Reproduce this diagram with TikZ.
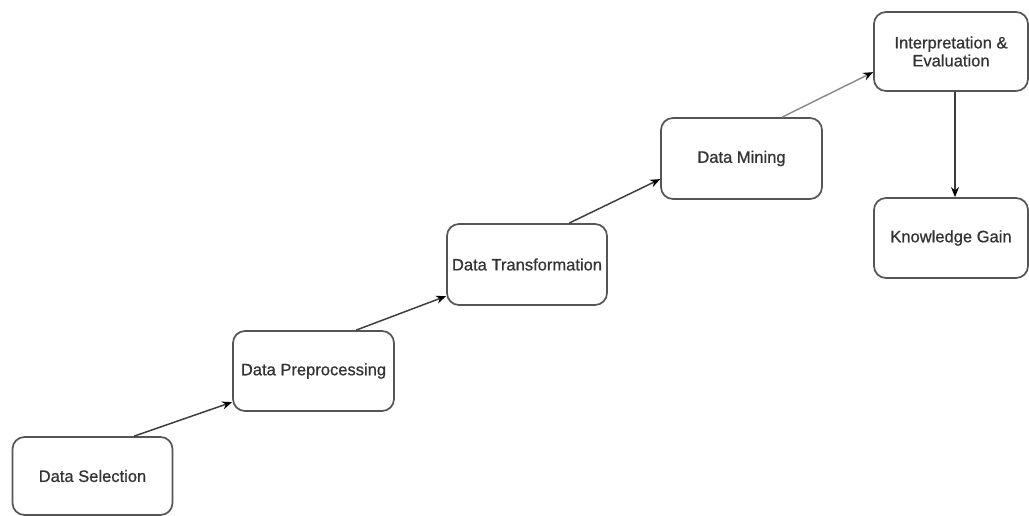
\documentclass[tikz,border=0pt]{standalone}
\usepackage{fontspec}
\setmainfont{Liberation Sans}
\newfontfamily\stagefont[FakeBold=0.7]{Liberation Sans}
\usetikzlibrary{calc,arrows.meta}
\definecolor{boxline}{HTML}{555555}
\definecolor{arrowline}{HTML}{3C3C3C}
\definecolor{lightarrow}{HTML}{8C8C8C}
\definecolor{labeltext}{HTML}{333333}
\begin{document}
\begin{tikzpicture}[x=0.75pt,y=-0.75pt,
  stagebox/.style={draw=boxline, line width=1.3pt, rounded corners=9pt,
    fill=white, align=center, text=labeltext, inner sep=0pt,
    font=\stagefont\fontsize{12.4}{13.5}\selectfont},
  flow/.style={draw=arrowline, line width=1.1pt,
    -{Stealth[length=7.5pt,width=6pt,color=black]}}]
  % page area
  \path[use as bounding box, fill=white] (0,0) rectangle (1029,516);

  % process stages
  \node[stagebox, minimum width=160*0.75pt, minimum height=78*0.75pt]
    (sel) at (92.5,476) {Data Selection};
  \node[stagebox, minimum width=161*0.75pt, minimum height=80*0.75pt]
    (pre) at (313.5,371) {Data Preprocessing};
  \node[stagebox, minimum width=160*0.75pt, minimum height=81*0.75pt]
    (tra) at (527,264.5) {Data Transformation};
  \node[stagebox, minimum width=161*0.75pt, minimum height=81*0.75pt]
    (min) at (741.5,158.5) {Data Mining};
  \node[stagebox, minimum width=154*0.75pt, minimum height=79*0.75pt]
    (int) at (951,51.5) {Interpretation \&\\Evaluation};
  \node[stagebox, minimum width=154*0.75pt, minimum height=80*0.75pt]
    (kno) at (951,238) {Knowledge Gain};

  % connectors
  \draw[flow] ($(sel.north west)+(122.5,0)$) -- ($(pre.north west)+(0,72)$);
  \draw[flow] ($(pre.north west)+(124,0)$) -- ($(tra.north west)+(0,73)$);
  \draw[flow] ($(tra.north west)+(123,0)$) -- ($(min.north west)+(0,62)$);
  \draw[flow, draw=lightarrow] ($(min.north west)+(122,0)$) -- ($(int.north west)+(0,61)$);
  \draw[flow] ($(int.south)+(4,0)$) -- ($(kno.north)+(4,0)$);
\end{tikzpicture}
\end{document}
